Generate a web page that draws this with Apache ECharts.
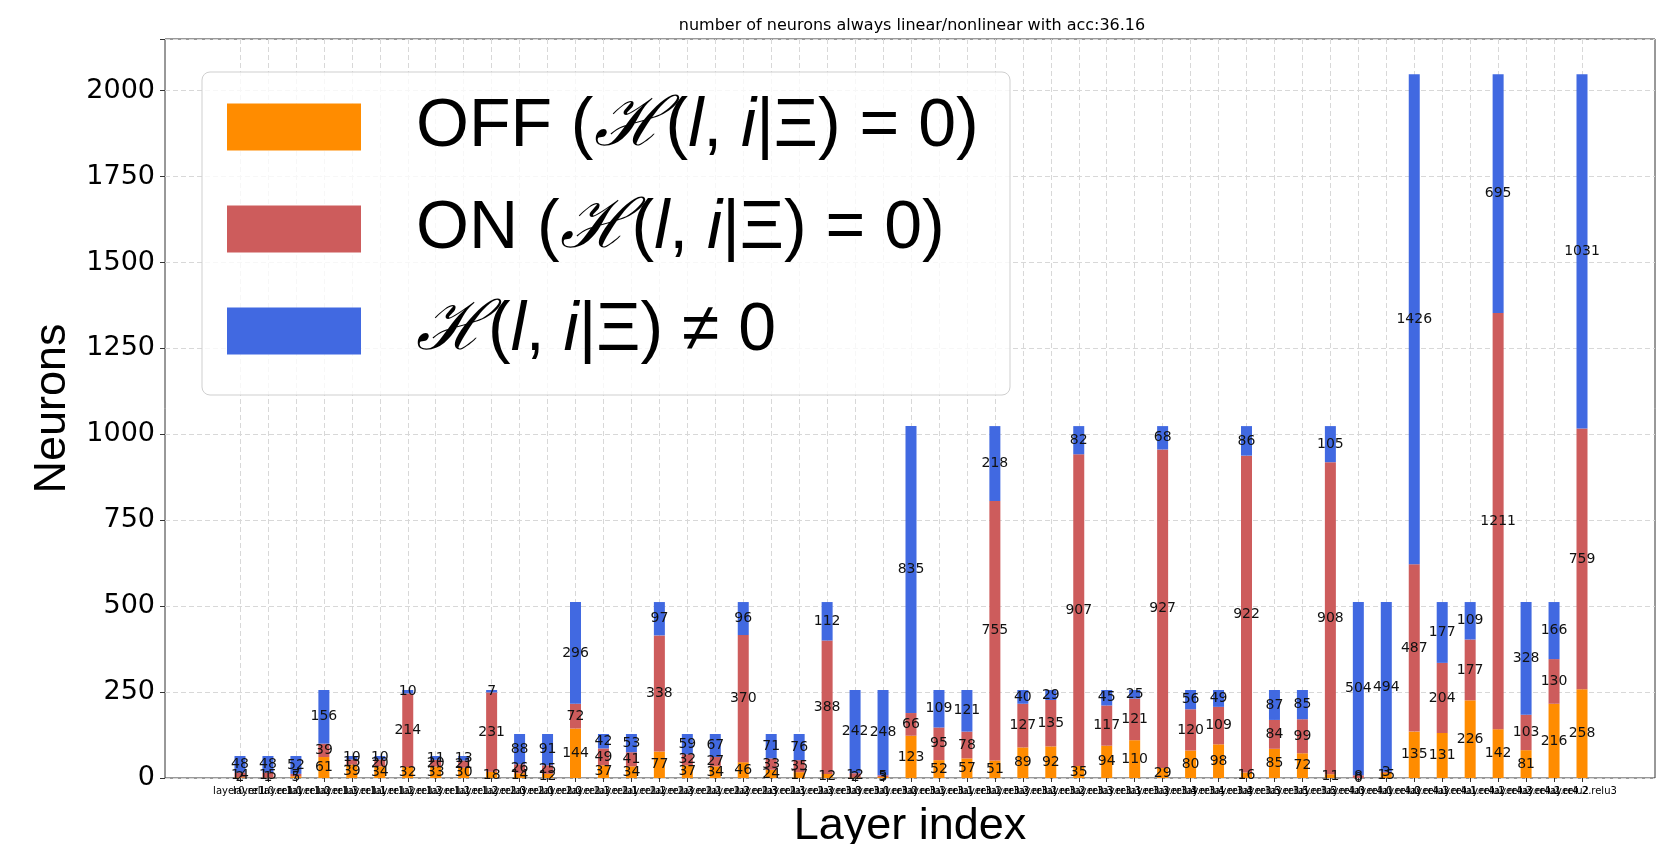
<!DOCTYPE html>
<html>
<head>
<meta charset="utf-8">
<script src="https://cdn.jsdelivr.net/npm/echarts@6/dist/echarts.min.js"></script>
<style>html,body{margin:0;padding:0;background:#fff}#chart{width:1665px;height:844px}</style>
</head>
<body>
<div id="chart"></div>
<script>
const categories = [
  'layer0.relu',
  'layer1.0.relu1','layer1.0.relu2','layer1.0.relu3',
  'layer1.1.relu1','layer1.1.relu2','layer1.1.relu3',
  'layer1.2.relu1','layer1.2.relu2','layer1.2.relu3',
  'layer2.0.relu1','layer2.0.relu2','layer2.0.relu3',
  'layer2.1.relu1','layer2.1.relu2','layer2.1.relu3',
  'layer2.2.relu1','layer2.2.relu2','layer2.2.relu3',
  'layer2.3.relu1','layer2.3.relu2','layer2.3.relu3',
  'layer3.0.relu1','layer3.0.relu2','layer3.0.relu3',
  'layer3.1.relu1','layer3.1.relu2','layer3.1.relu3',
  'layer3.2.relu1','layer3.2.relu2','layer3.2.relu3',
  'layer3.3.relu1','layer3.3.relu2','layer3.3.relu3',
  'layer3.4.relu1','layer3.4.relu2','layer3.4.relu3',
  'layer3.5.relu1','layer3.5.relu2','layer3.5.relu3',
  'layer4.0.relu1','layer4.0.relu2','layer4.0.relu3',
  'layer4.1.relu1','layer4.1.relu2','layer4.1.relu3',
  'layer4.2.relu1','layer4.2.relu2','layer4.2.relu3'
];
const offValues = [2,1,5,61,39,34,32,33,30,18,14,12,144,37,34,77,37,34,46,24,17,12,2,3,123,52,57,51,89,92,35,94,110,29,80,98,16,85,72,11,0,15,135,131,226,142,81,216,258];
const onValues = [14,15,7,39,15,20,214,20,21,231,26,25,72,49,41,338,32,27,370,33,35,388,12,5,66,95,78,755,127,135,907,117,121,927,120,109,922,84,99,908,8,3,487,204,177,1211,103,130,759];
const nzValues = [48,48,52,156,10,10,10,11,13,7,88,91,296,42,53,97,59,67,96,71,76,112,242,248,835,109,121,218,40,29,82,45,25,68,56,49,86,87,85,105,504,494,1426,177,109,695,328,166,1031];
const yTicks = [0,250,500,750,1000,1250,1500,1750,2000];
const seriesNames = ['OFF (ℋ(l, i|Ξ) = 0)', 'ON (ℋ(l, i|Ξ) = 0)', 'ℋ(l, i|Ξ) ≠ 0'];
const legendRich = [
  '{g|}{r|OFF (}{c|ℋ}{r|(}{m|l}{r|, }{m|i}{r||Ξ) = 0)}',
  '{g|}{r|ON (}{c|ℋ}{r|(}{m|l}{r|, }{m|i}{r||Ξ) = 0)}',
  '{g|}{c|ℋ}{r|(}{m|l}{r|, }{m|i}{r||Ξ) ≠ 0}'
];
const colors = ['#FF8C00', '#CD5C5C', '#4169E1'];
const Y_MAX = 2150.4;

const chart = echarts.init(document.getElementById('chart'), null, {renderer: 'canvas'});
const LF = "'Liberation Sans', sans-serif";
const LFS = 68;
const gridLine = {show: true, lineStyle: {color: '#d8d8d8', width: 1, type: [5, 3]}};
const labelStyle = {show: true, position: 'inside', color: '#111', fontSize: 14, fontFamily: 'DejaVu Sans', formatter: '{c}'};
const valuesBySeries = [offValues, onValues, nzValues];

const option = {
  animation: false,
  backgroundColor: '#fff',
  color: colors,
  title: {
    text: 'number of neurons always linear/nonlinear with acc:36.16',
    left: 907, top: 13, textAlign: 'center',
    textStyle: {fontFamily: 'DejaVu Sans', fontSize: 16, fontWeight: 'normal', color: '#000'}
  },
  graphic: [{
    type: 'rect', z: 50, zlevel: 0,
    shape: {x: 202, y: 72, width: 808, height: 323, r: 8},
    style: {fill: 'rgba(255,255,255,0.8)', stroke: '#cfcfcf', lineWidth: 1}
  }],
  legend: {
    orient: 'vertical', left: 227, top: 92, padding: 0, z: 60,
    itemWidth: 134, itemHeight: 47, itemGap: 32, icon: 'rect',
    data: seriesNames,
    formatter: function (name) { return legendRich[seriesNames.indexOf(name)]; },
    textStyle: {
      fontSize: LFS, lineHeight: 70, color: '#000', fontFamily: LF,
      rich: {
        g: {width: 50, lineHeight: 70},
        r: {fontSize: LFS, lineHeight: 70, fontFamily: LF, color: '#000'},
        m: {fontSize: LFS, lineHeight: 70, fontFamily: LF, fontStyle: 'italic', color: '#000'},
        c: {fontSize: LFS, lineHeight: 70, fontFamily: "'DejaVu Serif', serif", fontStyle: 'italic', color: '#000'}
      }
    }
  },
  grid: [
    {left: 165, right: 10, top: 39, bottom: 66, show: true, borderColor: '#333', borderWidth: 1,
     backgroundColor: 'transparent', containLabel: false, outerBoundsMode: 'none'},
    {left: 240, right: 83, top: 39, bottom: 66, containLabel: false, outerBoundsMode: 'none'}
  ],
  xAxis: [
    {type: 'value', gridIndex: 0, min: 0, max: 1, show: true,
     axisLine: {show: false}, axisTick: {show: false}, axisLabel: {show: false}, splitLine: {show: false},
     name: 'Layer index', nameLocation: 'middle', nameGap: 26,
     nameTextStyle: {fontFamily: LF, fontSize: 45, color: '#000'}},
    {type: 'category', gridIndex: 1, data: categories, boundaryGap: false,
     axisLine: {show: false},
     axisTick: {show: true, length: 4, lineStyle: {color: '#333'}, interval: 0},
     axisLabel: {interval: 0, hideOverlap: false, fontSize: 10, fontFamily: 'DejaVu Sans', color: '#000', margin: 8},
     splitLine: {show: true, interval: 0, lineStyle: {color: '#d8d8d8', width: 1, type: [5, 3]}}}
  ],
  yAxis: [
    {type: 'value', gridIndex: 0, min: 0, max: Y_MAX, interval: 250,
     axisLine: {show: false},
     axisTick: {show: true, length: 5, lineStyle: {color: '#333'}},
     axisLabel: {fontSize: 27, fontFamily: 'DejaVu Sans', color: '#000', margin: 10,
       formatter: function (v) { return yTicks.indexOf(v) >= 0 ? String(v) : ''; }},
     splitLine: gridLine,
     name: 'Neurons', nameLocation: 'middle', nameGap: 76,
     nameTextStyle: {fontFamily: LF, fontSize: 45, color: '#000'}},
    {type: 'value', gridIndex: 1, min: 0, max: Y_MAX, show: false, splitLine: {show: false}}
  ],
  series: seriesNames.map(function (name, k) {
    return {
      name: name, type: 'bar', stack: 'total', xAxisIndex: 1, yAxisIndex: 1,
      barWidth: 11, data: valuesBySeries[k],
      itemStyle: {color: colors[k]},
      label: labelStyle
    };
  })
};
chart.setOption(option);
</script>
</body>
</html>
